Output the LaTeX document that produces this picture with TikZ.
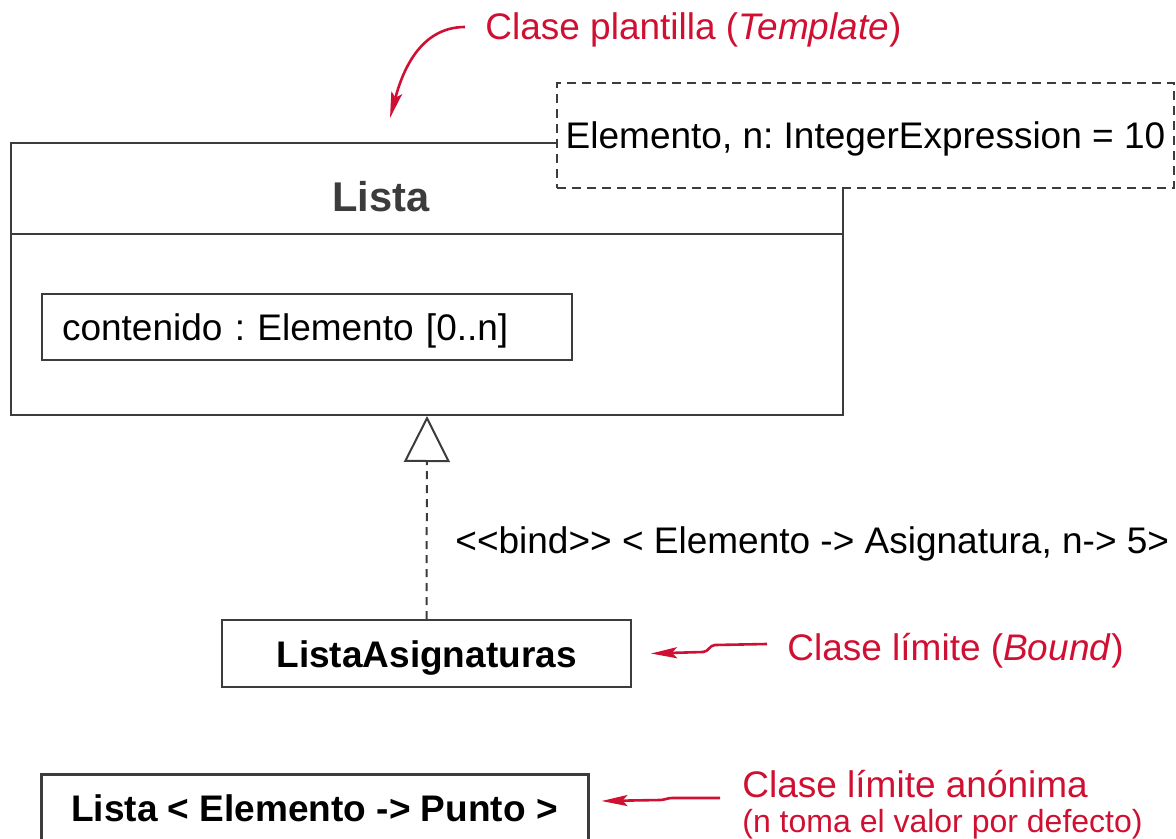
\documentclass[tikz,border=0pt]{standalone}
\usepackage{fontspec}
\setmainfont{Liberation Sans}
\usepackage{xcolor}
\usepackage{tikz}
\usetikzlibrary{shapes,arrows.meta,positioning,calc}
\definecolor{notered}{RGB}{208, 16, 50}
\definecolor{umlgray}{RGB}{60, 60, 60}
\newcommand{\umlfont}{\fontsize{18.5pt}{22pt}\selectfont}
\newcommand{\smallnotefont}{\fontsize{16pt}{19pt}\selectfont}
\frenchspacing

\begin{document}
\begin{tikzpicture}[
    x=0.5pt, y=-0.5pt,
    umlbox/.style={rectangle, draw=umlgray, line width=1pt, inner sep=0pt, font=\umlfont},
    classname/.style={font=\fontsize{20.8pt}{24pt}\selectfont\bfseries, text=umlgray},
    parambox/.style={umlbox, dash pattern=on 4.5pt off 3pt, fill=white, anchor=west, minimum height=52.5pt, minimum width=308.5pt},
    attrbox/.style={umlbox, anchor=west, minimum height=33pt, inner xsep=10pt, text width=245pt, align=left, text height=16pt, text depth=2.4pt},
    boundbox/.style={umlbox, font=\umlfont\bfseries, minimum height=33.5pt},
    note/.style={anchor=west, text=notered, font=\umlfont, inner sep=0pt},
    notearrow/.style={-{Stealth[length=13pt, width=5.5pt, inset=2.5pt]}, notered, line width=1.3pt},
    realize/.style={-{Triangle[length=23pt, width=23pt, fill=white]}, umlgray, line width=1pt, dash pattern=on 4pt off 3pt}
]
\useasboundingbox (0,0) rectangle (1176,839);

% Template class Lista
\node[umlbox, minimum width=416pt, minimum height=45.5pt] (listahead) at (427,188.5) {};
\node[umlbox, minimum width=416pt, minimum height=90.5pt] (listabody) at (427,324.5) {};
\node[classname] (listaname) at (381,197) {Lista};
\node[attrbox] (contenido) at (41,327) {contenido : Elemento [0..n]};

% Template parameters
\node[parambox, text height=15pt, text depth=2.4pt] (params) at (556,135.5) {Elemento, n: IntegerExpression = 10};

% Bound class
\node[boundbox, minimum width=204.5pt, text height=16pt, text depth=2.4pt] (listaasig) at (426.5,653.5) {ListaAsignaturas};
\draw[realize] (listaasig.north) -- (listabody.south);
\node[anchor=west, inner sep=0pt, font=\umlfont] (bindlbl) at (455,544) {<{}<bind>{}> < Elemento -> Asignatura, n-> 5>};

% Anonymous bound class
\node[boundbox, minimum width=273.5pt, minimum height=34pt, line width=1.5pt] (anonbox) at (314.5,808) {Lista < Elemento -> Punto >};

% Notes
\node[note] (tmplbl) at (485,30) {Clase plantilla (\textit{Template})};
\coordinate (tmptip) at (390,118);
\draw[notearrow] ([xshift=-10pt,yshift=1.5pt]tmplbl.west) to[out=180, in=75] (tmptip);

\node[note] (boundlbl) at (787,651) {Clase límite (\textit{Bound})};
\draw[notearrow] ([xshift=-10pt,yshift=3.5pt]boundlbl.west) -- ++(-26pt,-0.5pt) to[out=180, in=0] ++(-6pt,-3.5pt) -- ([xshift=9.5pt]listaasig.east);

\node[note] (anonlbl) at (742,784) {Clase límite anónima};
\node[note, font=\smallnotefont] (anonnote) at (742,824) {(n toma el valor por defecto)};
\draw[notearrow] ([xshift=-11pt,yshift=-7pt]anonlbl.west) -- ++(-24pt,0) to[out=180, in=0] ++(-6pt,-1pt) -- ([xshift=6pt,yshift=3.5pt]anonbox.east);

\end{tikzpicture}
\end{document}
